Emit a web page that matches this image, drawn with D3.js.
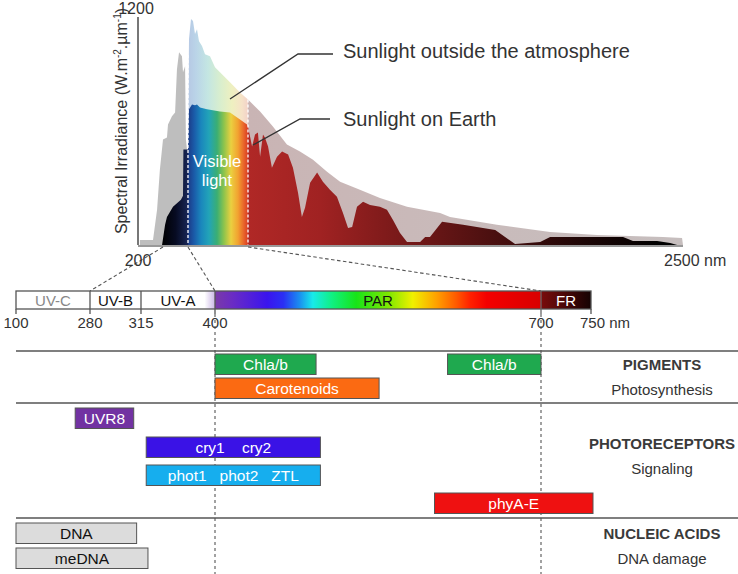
<!DOCTYPE html>
<html><head><meta charset="utf-8">
<script src="https://cdn.jsdelivr.net/npm/d3@7"></script>
<style>
body{margin:0;background:#fff;}
svg{display:block;font-family:"Liberation Sans",Arial,Helvetica,sans-serif;}
</style></head><body>
<svg id="c" width="738" height="574"></svg>
<script>
// ---------- DATA ----------
// Solar spectrum outside the atmosphere (wavelength nm, irradiance W.m-2.µm-1)
const outerNm  = [206,248,261,270,280,299,304,323,338,347,357,371,376,386,390,395,400,405,415,425,435,445,455,470,485,510,535,560,610,660,700,750,803,861,915,969,1027,1081,1163,1246,1358,1495,1536,1730,1950,2144,2417,2496,2500];
const outerVal = [26,26,185,396,555,566,634,677,698,925,1015,994,909,941,555,502,502,1084,1189,1179,1110,1136,1073,1047,1004,994,936,909,856,803,766,703,624,529,492,449,386,333,291,248,201,169,148,106,69,53,42,37,0];
// Solar spectrum at the Earth's surface
const earthNm  = [277,290,299,328,366,376,378,400,405,420,435,445,460,495,560,610,660,695,700,717,729,741,750,762,770,783,799,820,841,866,886,907,923,936,957,986,1010,1039,1068,1093,1114,1131,1151,1176,1205,1246,1275,1300,1329,1358,1412,1433,1453,1503,1590,1723,1805,1909,1950,2061,2252,2293,2393,2447,2476];
const earthVal = [0,106,148,201,238,259,502,502,714,740,735,740,724,714,703,698,661,634,624,518,581,592,465,581,566,518,407,465,492,476,407,275,148,196,328,381,333,291,254,169,90,95,201,227,211,201,185,132,63,16,16,42,42,122,106,79,5,16,42,42,42,21,21,11,0];
const yMaxLabel = "1200";
const topTickNm = [200, 2500];
const topTickLabels = ["200", "2500 nm"];

// Spectral bands
const bandNames = ["UV-C","UV-B","UV-A","PAR","FR"];
const bandStart = [100,280,315,400,700];
const bandEnd   = [280,315,400,700,750];
const barTicks  = [100,280,315,400,700,750];
const barTickLabels = ["100","280","315","400","700","750 nm"];

// Absorbing molecules (nm ranges)
const moleculeNames = ["Chla/b","Chla/b","Carotenoids","UVR8","cry1    cry2","phot1   phot2   ZTL","phyA-E","DNA","meDNA"];
const moleculeStart = [400,614,400,244,321,321,602,100,100];
const moleculeEnd   = [493,700,551,310,497,497,752,312,323];
const moleculeRow   = ["pig1","pig1","pig2","pr1","pr2","pr3","pr4","na1","na2"];
const groupNames     = ["PIGMENTS","PHOTORECEPTORS","NUCLEIC ACIDS"];
const groupSubtitles = ["Photosynthesis","Signaling","DNA damage"];

// ---------- STYLE ----------
const moleculeColor = {"Chla/b":"#1fa94f","Carotenoids":"#fb6a12","UVR8":"#7232a2","cry1    cry2":"#3a12e6","phot1   phot2   ZTL":"#16aeee","phyA-E":"#ef1111","DNA":"#dcdcdc","meDNA":"#dcdcdc"};
const darkText = {"DNA":true,"meDNA":true};
const bandTextColor = {"UV-C":"#888","UV-B":"#111","UV-A":"#111","PAR":"#111","FR":"#fff"};

const svg = d3.select("#c");
const defs = svg.append("defs");

// ---------- SCALES ----------
const xTop = d3.scaleLinear().domain([200,280,400,700,2500]).range([138,163,188,248,683]);
const yTop = d3.scaleLinear().domain([0,1200]).range([245,17]);
const xBar = d3.scaleLinear().domain([100,280,315,400,700,750]).range([16,90,141,215,541,591]);
const yRow = d3.scaleOrdinal().domain(["pig1","pig2","pr1","pr2","pr3","pr4","na1","na2"]).range([354,378,408,437,465,493,523,548]);
const rowH = 20.5;
const yGroup = d3.scaleOrdinal().domain(groupNames).range([370,449,539]);

function grad(id, scale, x0, x1, stops){
  const g = defs.append("linearGradient").attr("id",id).attr("gradientUnits","userSpaceOnUse")
    .attr("x1",x0).attr("x2",x1).attr("y1",0).attr("y2",0);
  stops.forEach(([nm,c])=>{
    g.append("stop").attr("offset",Math.max(0,Math.min(1,(scale(nm)-x0)/(x1-x0)))).attr("stop-color",c);
  });
}
grad("gOuter", xTop, xTop(200), xTop(2500), [
  [200,"#bebebe"],[399.9,"#bebebe"],[400,"#b6c8e4"],[440,"#bad4e8"],[500,"#c4e6e2"],[560,"#d8eece"],
  [620,"#eef0c0"],[670,"#f6e2c8"],[699.9,"#f2d2c8"],[700,"#c9b4b4"],[1500,"#c9baba"],[2500,"#c6bebe"]]);
grad("gEarth", xTop, xTop(200), xTop(2500), [
  [277,"#000000"],[340,"#070b22"],[399.9,"#182656"],[400,"#1c3a86"],[430,"#1a5aa8"],[465,"#1a86bc"],
  [505,"#22a4b8"],[545,"#3aae74"],[580,"#8ec44c"],[615,"#ead040"],[650,"#f2a230"],[680,"#e8622a"],
  [699.9,"#d83c22"],[700,"#b02826"],[1000,"#a02222"],[1300,"#7c1a1a"],[1700,"#4c1010"],[2100,"#1c0606"],[2400,"#000000"]]);
grad("gBar", xBar, xBar(100), xBar(750), [
  [100,"#ffffff"],[388,"#ffffff"],[399.9,"#cbb6e6"],[400,"#7a3aa8"],[416,"#6a2cc4"],[448,"#3a14ee"],
  [463,"#2a30f4"],[478,"#1a90f0"],[490,"#18eaea"],[508,"#10f080"],[530,"#18e418"],[560,"#80e800"],
  [582,"#f0f000"],[604,"#ffa000"],[622,"#ff5a00"],[635,"#ff2000"],[650,"#f40000"],[699.9,"#d80000"],
  [700,"#7a0c0c"],[750,"#150202"]]);

// ---------- TOP SPECTRUM ----------
const outerData = outerNm.map((n,i)=>({nm:n,v:outerVal[i]}));
const earthData = earthNm.map((n,i)=>({nm:n,v:earthVal[i]}));
const area = d3.area().x(d=>xTop(d.nm)).y0(yTop(0)).y1(d=>yTop(d.v));
svg.append("path").datum(outerData).attr("d",area).attr("fill","url(#gOuter)");
svg.append("path").datum(earthData).attr("d",area).attr("fill","url(#gEarth)");

// visible-light boundaries
[[400,1000],[700,766]].forEach(([nm,v])=>{
  svg.append("line").attr("x1",xTop(nm)).attr("x2",xTop(nm)).attr("y1",yTop(v)).attr("y2",yTop(0))
    .attr("stroke","#fff").attr("stroke-width",1.3).attr("stroke-dasharray","3,2");
});

// axes
svg.append("line").attr("x1",xTop(200)).attr("x2",xTop(200)).attr("y1",yTop(0)).attr("y2",yTop(1200))
  .attr("stroke","#555").attr("stroke-width",1.6);
svg.append("line").attr("x1",xTop(200)).attr("x2",xTop(2500)).attr("y1",yTop(0)+1).attr("y2",yTop(0)+1)
  .attr("stroke","#777").attr("stroke-width",1.4);
svg.append("text").attr("x",xTop(200)-2).attr("y",14).attr("text-anchor","middle")
  .attr("font-size",16).attr("fill","#333").text(yMaxLabel);
const yt = svg.append("text").attr("transform","translate(127,121) rotate(-90)")
  .attr("text-anchor","middle").attr("font-size",16).attr("fill","#333");
yt.append("tspan").text("Spectral Irradiance (W.m");
yt.append("tspan").attr("font-size",10).attr("dy",-6).text("-2");
yt.append("tspan").attr("dy",6).text(".µm");
yt.append("tspan").attr("font-size",10).attr("dy",-6).text("-1");
yt.append("tspan").attr("dy",6).text(")");

// connectors between the spectrum and the band bar
const barTop = 291, barBot = 309;
[280,400,700].forEach(nm=>{
  svg.append("line").attr("x1",xTop(nm)).attr("y1",yTop(0)+2).attr("x2",xBar(nm)).attr("y2",barTop)
    .attr("stroke","#555").attr("stroke-width",1.1).attr("stroke-dasharray","3.5,2.5");
});
// top tick labels
topTickNm.forEach((nm,i)=>{
  const t = svg.append("text").attr("y",266).attr("font-size",16).attr("fill","#333").text(topTickLabels[i]);
  if(i===0){
    svg.insert("rect", "text").attr("x",xTop(nm)-15).attr("y",253).attr("width",29).attr("height",14).attr("fill","#fff");
    t.attr("x",xTop(nm)).attr("text-anchor","middle").raise();
  } else {
    t.attr("x",xTop(nm)-19).attr("text-anchor","start");
  }
});

// labels on spectrum
svg.append("polyline").attr("points",[[230,99],[298,54],[333,54]].join(" "))
  .attr("fill","none").attr("stroke","#333").attr("stroke-width",1.3);
svg.append("polyline").attr("points",[[253,145],[300,119],[330,119]].join(" "))
  .attr("fill","none").attr("stroke","#333").attr("stroke-width",1.3);
svg.append("text").attr("x",343).attr("y",58).attr("font-size",20).attr("fill","#333").text("Sunlight outside the atmosphere");
svg.append("text").attr("x",343).attr("y",126).attr("font-size",20).attr("fill","#333").text("Sunlight on Earth");
svg.append("text").attr("x",xTop(550)-1).attr("y",167).attr("text-anchor","middle").attr("font-size",16.5).attr("fill","#fff").text("Visible");
svg.append("text").attr("x",xTop(550)-1).attr("y",186).attr("text-anchor","middle").attr("font-size",16.5).attr("fill","#fff").text("light");

// ---------- BAND BAR ----------
svg.append("rect").attr("x",xBar(100)).attr("y",barTop).attr("width",xBar(750)-xBar(100)).attr("height",barBot-barTop)
  .attr("fill","url(#gBar)").attr("stroke","#555").attr("stroke-width",1.3);
barTicks.forEach((nm,i)=>{
  const inner = i>0 && i<barTicks.length-1;
  svg.append("line").attr("x1",xBar(nm)).attr("x2",xBar(nm)).attr("y1",inner?barTop:barBot).attr("y2",barBot+5)
    .attr("stroke", nm===700?"#666":"#555").attr("stroke-width",1.3);
  const t = svg.append("text").attr("y",328).attr("font-size",15).attr("fill","#333").text(barTickLabels[i]);
  if(i===barTicks.length-1) t.attr("x",xBar(nm)-11).attr("text-anchor","start");
  else t.attr("x",xBar(nm)).attr("text-anchor","middle");
});
bandNames.forEach((b,i)=>{
  svg.append("text").attr("x",(xBar(bandStart[i])+xBar(bandEnd[i]))/2).attr("y",306)
    .attr("text-anchor","middle").attr("font-size",15).attr("fill",bandTextColor[b]).text(b);
});

// ---------- MOLECULES ----------
[400,700].forEach(nm=>{
  svg.append("line").attr("x1",xBar(nm)).attr("x2",xBar(nm)).attr("y1",barBot+5).attr("y2",574)
    .attr("stroke","#555").attr("stroke-width",1.1).attr("stroke-dasharray","3,3");
});
[351,403,518].forEach(y=>{
  svg.append("line").attr("x1",16).attr("x2",738).attr("y1",y).attr("y2",y).attr("stroke","#555").attr("stroke-width",1.5);
});
moleculeNames.forEach((m,i)=>{
  const x0 = xBar(moleculeStart[i]), x1 = xBar(moleculeEnd[i]), y0 = yRow(moleculeRow[i]);
  svg.append("rect").attr("x",x0).attr("y",y0).attr("width",x1-x0).attr("height",rowH)
    .attr("fill",moleculeColor[m]).attr("stroke","#555").attr("stroke-width",1);
  svg.append("text").attr("x",(x0+x1)/2).attr("y",y0+15.5).attr("text-anchor","middle")
    .attr("font-size",15.5).attr("fill",darkText[m]?"#111":"#fff")
    .attr("xml:space","preserve").style("white-space","pre").text(m);
});
groupNames.forEach((g,i)=>{
  svg.append("text").attr("x",662).attr("y",yGroup(g)).attr("text-anchor","middle").attr("font-size",15)
    .attr("font-weight","bold").attr("fill","#3a3a3a").text(g);
  svg.append("text").attr("x",662).attr("y",yGroup(g)+25).attr("text-anchor","middle").attr("font-size",15)
    .attr("fill","#333").text(groupSubtitles[i]);
});
</script>
</body></html>
